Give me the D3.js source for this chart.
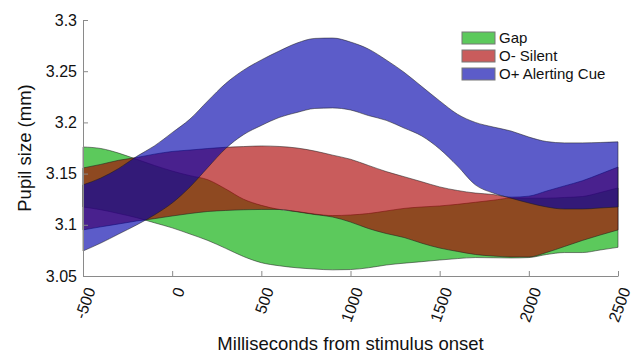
<!DOCTYPE html>
<html>
<head>
<meta charset="utf-8">
<script src="https://cdn.jsdelivr.net/npm/d3@7"></script>
<style>
  body { margin: 0; background: #fff; }
  text { font-family: "Liberation Sans", Arial, sans-serif; fill: #111; }
</style>
</head>
<body>
<div id="chart"></div>
<script>
// time grid (ms from stimulus onset)
const timeMs = d3.range(-500, 2501, 100);

// band bounds, pupil size in mm
const gapUpper = [3.176, 3.1745, 3.170, 3.164, 3.158, 3.1525, 3.148, 3.144, 3.135, 3.125, 3.119, 3.115, 3.113, 3.1105, 3.109, 3.1096, 3.111, 3.1135, 3.116, 3.1174, 3.1184, 3.120, 3.122, 3.124, 3.126, 3.126, 3.126, 3.1267, 3.1276, 3.1315, 3.136];
const gapLower = [3.1174, 3.1147, 3.111, 3.107, 3.102, 3.097, 3.091, 3.0847, 3.077, 3.069, 3.063, 3.060, 3.058, 3.0568, 3.056, 3.0563, 3.058, 3.0607, 3.0625, 3.064, 3.0656, 3.067, 3.068, 3.0678, 3.0676, 3.068, 3.071, 3.0729, 3.0729, 3.0754, 3.078];

const silentUpper = [3.1555, 3.159, 3.163, 3.1657, 3.169, 3.1716, 3.173, 3.1745, 3.1757, 3.1764, 3.177, 3.1765, 3.175, 3.172, 3.168, 3.164, 3.158, 3.152, 3.147, 3.142, 3.137, 3.1335, 3.131, 3.1296, 3.127, 3.128, 3.133, 3.138, 3.143, 3.1496, 3.1564];
const silentLower = [3.095, 3.098, 3.1008, 3.1037, 3.106, 3.1086, 3.111, 3.113, 3.114, 3.1147, 3.115, 3.115, 3.1127, 3.110, 3.1076, 3.1027, 3.0964, 3.0915, 3.0876, 3.082, 3.0773, 3.074, 3.071, 3.0695, 3.0686, 3.0686, 3.073, 3.0788, 3.0847, 3.090, 3.095];

const alertUpper = [3.139, 3.1457, 3.155, 3.1667, 3.177, 3.190, 3.2033, 3.221, 3.238, 3.251, 3.261, 3.2697, 3.2775, 3.282, 3.2824, 3.2785, 3.2717, 3.261, 3.249, 3.235, 3.221, 3.208, 3.200, 3.1955, 3.1916, 3.1857, 3.1813, 3.180, 3.180, 3.1804, 3.181];
const alertLower = [3.0744, 3.0822, 3.091, 3.0998, 3.1096, 3.1213, 3.137, 3.156, 3.1745, 3.188, 3.197, 3.2048, 3.2097, 3.2136, 3.2141, 3.2121, 3.2067, 3.202, 3.1945, 3.1867, 3.174, 3.1574, 3.139, 3.131, 3.126, 3.1213, 3.1174, 3.1154, 3.1154, 3.1164, 3.1174];

const groupNames = ["Gap", "O- Silent", "O+ Alerting Cue"];
const groupColors = ["rgb(0,170,0)", "rgb(170,0,0)", "rgb(0,0,170)"];

const xTicks = [-500, 0, 500, 1000, 1500, 2000, 2500];
const xTickLabels = ["-500", "0", "500", "1000", "1500", "2000", "2500"];
const yTicks = [3.05, 3.1, 3.15, 3.2, 3.25, 3.3];
const yTickLabels = ["3.05", "3.1", "3.15", "3.2", "3.25", "3.3"];

const width = 638, height = 356;
const margin = { top: 20, right: 20, bottom: 80, left: 83 };

const svg = d3.select("#chart").append("svg")
  .attr("width", width)
  .attr("height", height);

const x = d3.scaleLinear().domain([-500, 2500]).range([margin.left, width - margin.right]);
const y = d3.scaleLinear().domain([3.05, 3.3]).range([height - margin.bottom, margin.top]);

const bands = [
  { upper: gapUpper, lower: gapLower },
  { upper: silentUpper, lower: silentLower },
  { upper: alertUpper, lower: alertLower }
];

const area = d3.area()
  .x(d => x(d.t))
  .y0(d => y(d.lo))
  .y1(d => y(d.hi))
  .curve(d3.curveMonotoneX);

bands.forEach((b, i) => {
  const pts = timeMs.map((t, j) => ({ t: t, lo: b.lower[j], hi: b.upper[j] }));
  svg.append("path")
    .datum(pts)
    .attr("d", area)
    .attr("fill", groupColors[i])
    .attr("fill-opacity", 0.64)
    .attr("stroke", "#1a1a1a")
    .attr("stroke-opacity", 0.75)
    .attr("stroke-width", 0.7);
});

// axes
const xAxis = d3.axisBottom(x).tickValues(xTicks).tickSizeInner(-5).tickSizeOuter(0)
  .tickFormat((d, i) => xTickLabels[i]);
const gx = svg.append("g")
  .attr("transform", `translate(0,${height - margin.bottom})`)
  .call(xAxis);
gx.selectAll("text")
  .attr("font-size", 16)
  .attr("text-anchor", "end")
  .attr("transform", "translate(7,12) rotate(-70)")
  .attr("x", 0).attr("y", 0)
  .attr("dy", "0.35em");

const yAxis = d3.axisLeft(y).tickValues(yTicks).tickSizeInner(-5).tickSizeOuter(0)
  .tickFormat((d, i) => yTickLabels[i]);
const gy = svg.append("g")
  .attr("transform", `translate(${margin.left},0)`)
  .call(yAxis);
gy.selectAll("text").attr("font-size", 16).attr("x", -6);

svg.selectAll(".domain, .tick line").attr("stroke", "#8a8a8a");

// titles
svg.append("text")
  .attr("x", (x(-500) + x(2500)) / 2)
  .attr("y", 350)
  .attr("text-anchor", "middle")
  .attr("font-size", 18.5)
  .text("Milliseconds from stimulus onset");

svg.append("text")
  .attr("transform", `translate(31,${(y(3.05) + y(3.3)) / 2}) rotate(-90)`)
  .attr("text-anchor", "middle")
  .attr("font-size", 18.5)
  .text("Pupil size (mm)");

// legend
const legend = svg.append("g").attr("transform", "translate(462,32)");
groupNames.forEach((name, i) => {
  const row = legend.append("g").attr("transform", `translate(0,${i * 18})`);
  row.append("rect")
    .attr("width", 33).attr("height", 12)
    .attr("fill", groupColors[i]).attr("fill-opacity", 0.64)
    .attr("stroke", "#777").attr("stroke-width", 1);
  row.append("text")
    .attr("x", 37).attr("y", 6).attr("dy", "0.35em")
    .attr("font-size", 15)
    .text(name);
});
</script>
</body>
</html>
